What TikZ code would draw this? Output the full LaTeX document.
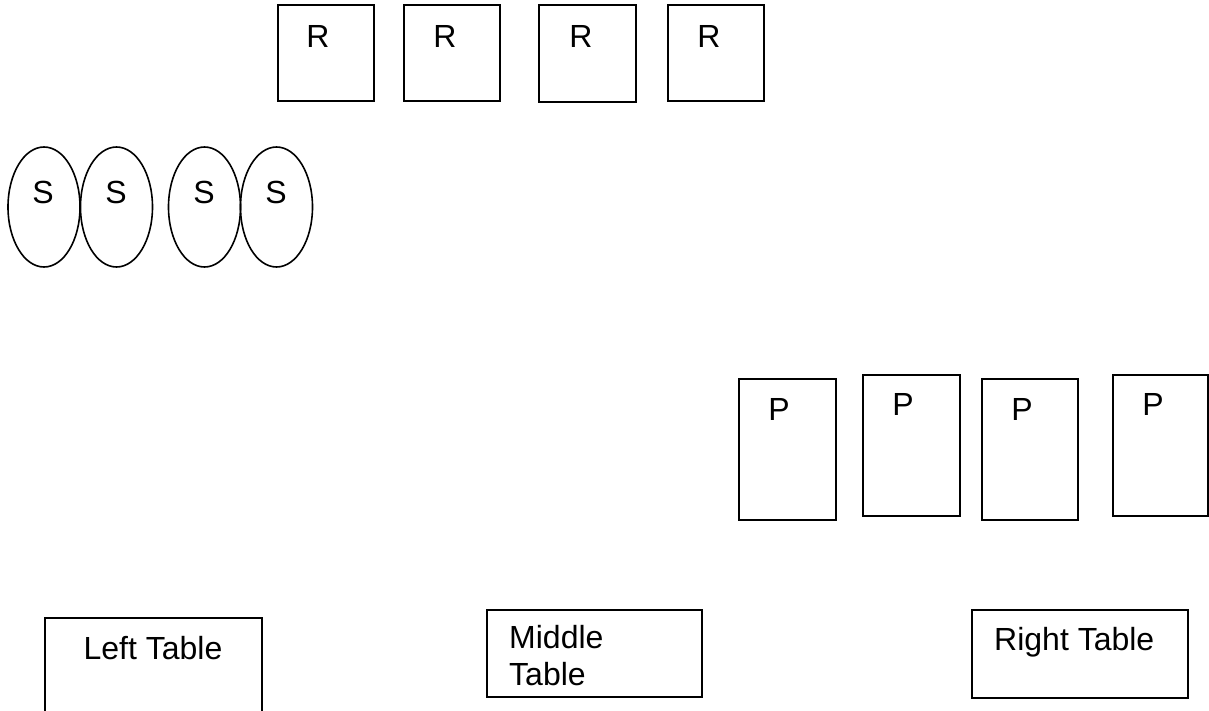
\documentclass[tikz,border=0pt]{standalone}
\usepackage{fontspec}
\setmainfont{Liberation Sans}
\usetikzlibrary{shapes.geometric}
\begin{document}
\begin{tikzpicture}[x=1pt,y=-1pt,
  box/.style={draw=black,line width=1.6pt,rectangle,inner sep=0pt},
  seat/.style={draw=black,line width=1.6pt,ellipse,inner sep=0pt,minimum width=72pt,minimum height=120pt},
  lbl/.style={font=\fontsize{32}{37}\selectfont,inner sep=0pt,anchor=base}]
\useasboundingbox (0,0) rectangle (1209,710);
% R boxes
\node[box,minimum width=96pt,minimum height=96pt] (r1) at (326,53) {};
\node[box,minimum width=96pt,minimum height=96pt] (r2) at (452,53) {};
\node[box,minimum width=97pt,minimum height=97pt] (r3) at (587.5,53.5) {};
\node[box,minimum width=96pt,minimum height=96pt] (r4) at (716,53) {};
\node[lbl] (tr1) at (318,47) {R};
\node[lbl] (tr2) at (445,47) {R};
\node[lbl] (tr3) at (581,47) {R};
\node[lbl] (tr4) at (709,47) {R};
% S ellipses
\node[seat] (s1) at (44,207) {};
\node[seat] (s2) at (116.5,207) {};
\node[seat] (s3) at (204.5,207) {};
\node[seat] (s4) at (276.5,207) {};
\node[lbl] (ts1) at (43,203) {S};
\node[lbl] (ts2) at (116,203) {S};
\node[lbl] (ts3) at (204,203) {S};
\node[lbl] (ts4) at (276,203) {S};
% P boxes
\node[box,minimum width=97pt,minimum height=141pt] (p1) at (787.5,449.5) {};
\node[box,minimum width=97pt,minimum height=141pt] (p2) at (911.5,445.5) {};
\node[box,minimum width=96pt,minimum height=141pt] (p3) at (1030,449.5) {};
\node[box,minimum width=95pt,minimum height=141pt] (p4) at (1160.5,445.5) {};
\node[lbl] (tp1) at (779,420) {P};
\node[lbl] (tp2) at (903,415) {P};
\node[lbl] (tp3) at (1022,420) {P};
\node[lbl] (tp4) at (1153,415) {P};
% Tables
\node[box,minimum width=217pt,minimum height=104pt] (lt) at (153.5,670) {};
\node[box,minimum width=215pt,minimum height=87pt] (mt) at (594.5,653.5) {};
\node[box,minimum width=216pt,minimum height=88pt] (rt) at (1080,654) {};
\node[lbl] (tlt) at (153,659) {Left Table};
\node[lbl,anchor=base west,align=left] (tmt) at (509,685) {Middle\\Table};
\node[lbl,anchor=base west] (trt) at (994,650) {Right Table};
\end{tikzpicture}
\end{document}
